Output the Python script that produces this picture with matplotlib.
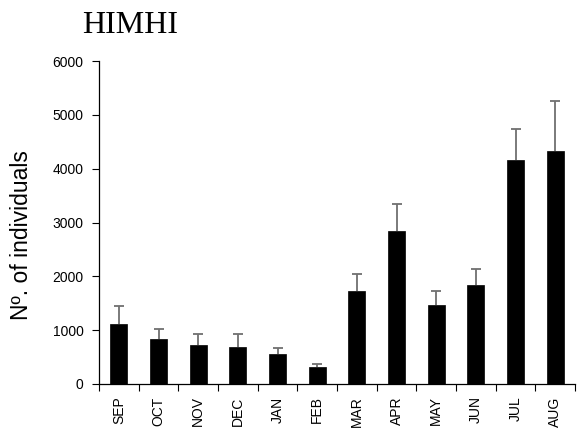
import matplotlib
matplotlib.use("Agg")
import matplotlib.pyplot as plt
import numpy as np

months = ["SEP", "OCT", "NOV", "DEC", "JAN", "FEB",
          "MAR", "APR", "MAY", "JUN", "JUL", "AUG"]
counts = [1115, 836, 719, 682, 552, 322, 1729, 2844, 1468, 1834, 4158, 4331]
upper_err = [340, 180, 210, 247, 123, 44, 316, 495, 266, 298, 576, 929]

plt.rcParams["font.family"] = ["Liberation Sans", "DejaVu Sans"]

fig = plt.figure(figsize=(5.8, 4.33), dpi=100)
ax = fig.add_axes([0.1707, 0.1132, 0.8207, 0.7458])

x = np.arange(len(months))
ax.bar(x, counts, width=0.43, color="black", edgecolor="black", linewidth=0.5, zorder=2)
_, caps, _ = ax.errorbar(x, counts, yerr=[np.zeros(len(counts)), upper_err], fmt="none",
                         ecolor="#707070", elinewidth=1.3, capsize=3.5, capthick=1.3,
                         zorder=1)
# only the upper whisker carries a cap
caps[0].set_visible(False)
caps[1].set_color("black")

ax.set_xlim(-0.5, len(months) - 0.5)
ax.set_ylim(0, 6000)
ax.set_yticks(range(0, 6001, 1000))
ax.tick_params(axis="y", direction="out", length=5, width=0.8, labelsize=10, pad=6)

# category boundary ticks, labels centred under each bar
ax.set_xticks(np.arange(-0.5, len(months), 1.0))
ax.set_xticklabels([])
ax.set_xticks(x, minor=True)
ax.set_xticklabels(months, minor=True, rotation=90, fontsize=10)
ax.tick_params(axis="x", which="major", direction="out", length=5, width=0.8)
ax.tick_params(axis="x", which="minor", length=0, pad=9)

for side in ("top", "right"):
    ax.spines[side].set_visible(False)
for side in ("left", "bottom"):
    ax.spines[side].set_linewidth(0.9)

ax.set_ylabel("Nº. of individuals", fontsize=16.5)
ax.yaxis.set_label_coords(-0.139, 0.461)
fig.text(0.224, 0.94, "HIMHI", family="Liberation Serif", fontsize=23,
         ha="center", va="center")

fig.savefig("out.png", dpi=100)
